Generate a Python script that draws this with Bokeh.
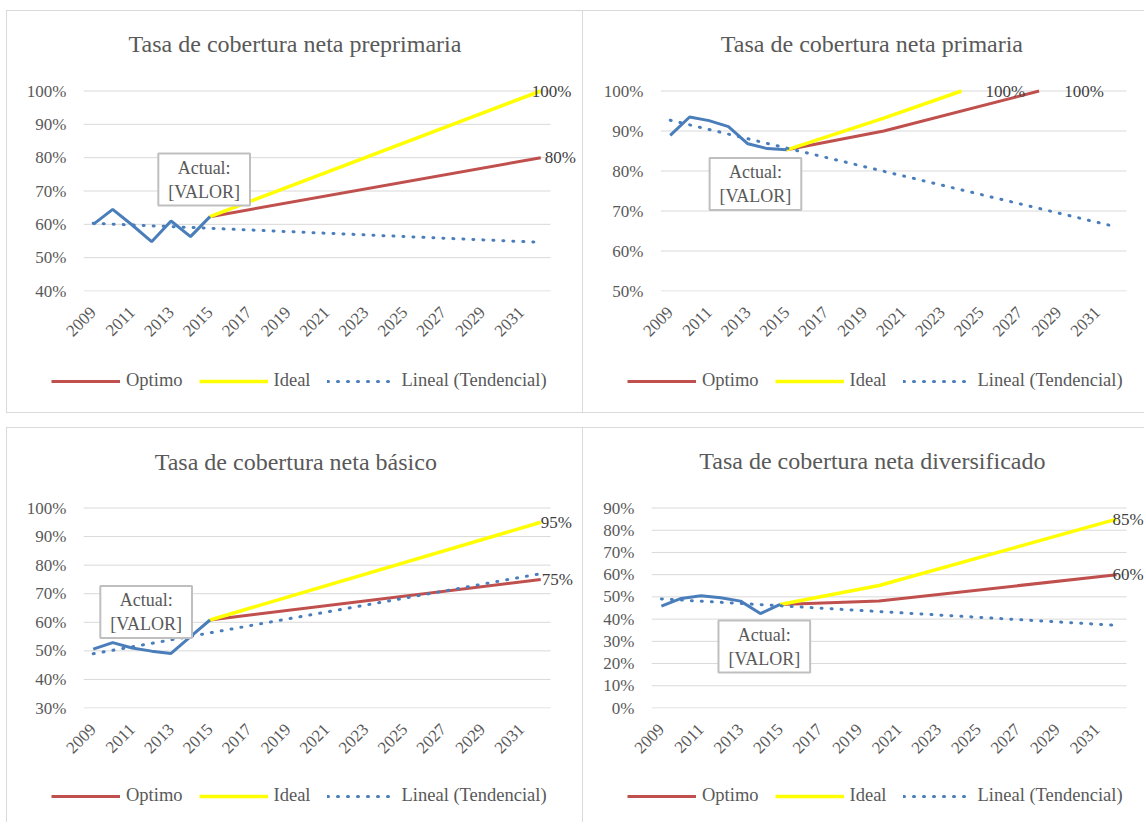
import math
from bokeh.plotting import figure
from bokeh.layouts import row, column
from bokeh.models import Range1d, FixedTicker, PrintfTickFormatter, Label, Legend, LegendItem
from bokeh.embed import file_html
from bokeh.resources import INLINE

FONT = "Liberation Serif"
TXT = "#595959"
GRID = "#d9d9d9"
RED = "#C0504D"
YEL = "#FFFF00"
BLUE = "#4A7EBB"
NAN = float("nan")

years_actual = [2009, 2010, 2011, 2012, 2013, 2014, 2015]
x_ticks = [2009, 2011, 2013, 2015, 2017, 2019, 2021, 2023, 2025, 2027, 2029, 2031]

# Tasa de cobertura neta preprimaria
pre_actual = [60.0, 64.5, 59.8, 54.8, 61.0, 56.3, 62.3]
pre_opt_years = [2015, 2032]
pre_opt = [62.3, 80.0]
pre_ide_years = [2015, 2032]
pre_ide = [62.3, 100.0]
pre_trend_years = [2009, 2032]
pre_trend = [60.3, 54.6]
pre_yticks = [40, 50, 60, 70, 80, 90, 100]

# Tasa de cobertura neta primaria
pri_actual = [88.9, 93.5, 92.6, 91.1, 86.8, 85.6, 85.3]
pri_opt_years = [2015, 2020, 2028]
pri_opt = [85.3, 90.0, 100.0]
pri_ide_years = [2015, 2020, 2024]
pri_ide = [85.3, 93.2, 100.0]
pri_trend_years = [2009, 2032]
pri_trend = [92.7, 66.0]
pri_yticks = [50, 60, 70, 80, 90, 100]

# Tasa de cobertura neta básico
bas_actual = [50.6, 52.9, 51.0, 49.9, 49.1, 55.0, 60.8]
bas_opt_years = [2015, 2032]
bas_opt = [60.8, 75.0]
bas_ide_years = [2015, 2032]
bas_ide = [60.8, 95.0]
bas_trend_years = [2009, 2032]
bas_trend = [49.0, 77.0]
bas_yticks = [30, 40, 50, 60, 70, 80, 90, 100]

# Tasa de cobertura neta diversificado
div_actual = [45.8, 49.3, 50.5, 49.6, 48.1, 42.5, 46.6]
div_opt_years = [2015, 2020, 2032]
div_opt = [46.6, 48.1, 60.0]
div_ide_years = [2015, 2020, 2032]
div_ide = [46.6, 55.1, 85.0]
div_trend_years = [2009, 2032]
div_trend = [49.1, 37.2]
div_yticks = [0, 10, 20, 30, 40, 50, 60, 70, 80, 90]

legend_labels = ["Optimo", "Ideal", "Lineal (Tendencial)"]
box_text = "Actual:\n[VALOR]"

X0, X1 = 2008.5, 2032.5   # category band of the plot area
PLOT_RIGHT = 543          # px, right edge of the gridded area inside each canvas
PLOT_TOP = 80             # px, top gridline inside each canvas
PLOT_H = 200              # px, height of the gridded area
MAIN_H = 348              # px, height of the chart canvas (legend strip below)

STYLE_OPT = dict(line_color=RED, line_width=3)
STYLE_IDE = dict(line_color=YEL, line_width=3.5)
STYLE_ACT = dict(line_color=BLUE, line_width=3)
STYLE_TR = dict(line_color=BLUE, line_width=3, line_dash="1 9", line_cap="round")


def make_legend(r1, r2, r3, loc):
    return Legend(items=[LegendItem(label=legend_labels[0], renderers=[r1]),
                         LegendItem(label=legend_labels[1], renderers=[r2]),
                         LegendItem(label=legend_labels[2], renderers=[r3])],
                  orientation="horizontal", location=loc,
                  glyph_width=69, glyph_height=20, label_standoff=6, spacing=16,
                  padding=0, margin=0, border_line_color=None,
                  background_fill_alpha=0,
                  label_text_font=FONT, label_text_font_size="18.5px",
                  label_text_color=TXT)


def chart(title, actual, ox, oy, ix, iy, tx, ty, yticks, w, mbl,
          title_xy, box_xy, end_labels):
    ymin, ymax = yticks[0], yticks[-1]
    ppu = PLOT_H / (ymax - ymin)
    ppy = (PLOT_RIGHT - mbl) / (X1 - X0)
    p = figure(width=w, height=MAIN_H,
               x_range=Range1d(X0, X0 + (w - mbl) / ppy),
               y_range=Range1d(ymin - 0.5 / ppu, ymax + (PLOT_TOP - 0.5) / ppu),
               output_backend="svg", toolbar_location=None,
               min_border_left=mbl, min_border_right=0, min_border_top=0,
               min_border_bottom=MAIN_H - PLOT_TOP - PLOT_H, outline_line_color=None,
               background_fill_color="white", border_fill_color="white")
    p.title.visible = False
    p.xgrid.visible = False
    p.ygrid.visible = False
    # horizontal gridlines limited to the category band
    p.segment(x0=[X0] * len(yticks), x1=[X1] * len(yticks), y0=yticks, y1=yticks,
              line_color=GRID, line_width=1)

    p.yaxis.ticker = FixedTicker(ticks=yticks)
    p.yaxis.formatter = PrintfTickFormatter(format="%d%%")
    p.yaxis.axis_line_color = None
    p.yaxis.major_tick_line_color = None
    p.yaxis.major_tick_out = 0
    p.yaxis.minor_tick_line_color = None
    p.yaxis.major_label_standoff = 17
    p.yaxis.major_label_text_font = FONT
    p.yaxis.major_label_text_font_size = "17px"
    p.yaxis.major_label_text_color = TXT

    p.xaxis.ticker = FixedTicker(ticks=x_ticks)
    p.xaxis.axis_line_color = None
    p.xaxis.major_tick_line_color = None
    p.xaxis.major_tick_out = 0
    p.xaxis.minor_tick_line_color = None
    p.xaxis.major_label_orientation = math.pi / 4
    p.xaxis.major_label_standoff = 18
    p.xaxis.major_label_text_font = FONT
    p.xaxis.major_label_text_font_size = "17px"
    p.xaxis.major_label_text_color = TXT

    p.line(ox, oy, **STYLE_OPT)
    p.line(ix, iy, **STYLE_IDE)
    p.line(years_actual, actual, **STYLE_ACT)
    p.line(tx, ty, **STYLE_TR)

    p.add_layout(Label(x=title_xy[0], y=title_xy[1], text=title,
                       text_align="center", text_baseline="middle",
                       text_font=FONT, text_font_size="24px", text_color=TXT))
    p.add_layout(Label(x=box_xy[0], y=box_xy[1], text=box_text,
                       text_align="center", text_baseline="middle",
                       text_font=FONT, text_font_size="18px", text_color=TXT,
                       background_fill_color="white", border_line_color="#bfbfbf",
                       border_line_width=2, padding=(10, 4)))
    for (lx, ly, txt, xo) in end_labels:
        p.add_layout(Label(x=lx, y=ly, text=txt, x_offset=xo,
                           text_align="left", text_baseline="middle",
                           text_font=FONT, text_font_size="17px",
                           text_color="#404040"))
    return p


def legend_strip(w, hs, lx, ly):
    s = figure(width=w, height=hs, x_range=Range1d(0, w), y_range=Range1d(0, hs),
               x_axis_type=None, y_axis_type=None, output_backend="svg",
               toolbar_location=None, min_border=0, min_border_left=0,
               min_border_right=0, min_border_top=0, min_border_bottom=0,
               outline_line_color=None,
               background_fill_color="white", border_fill_color="white")
    s.title.visible = False
    # legend swatches only (no data drawn in this strip)
    r1 = s.line([NAN], [NAN], **STYLE_OPT)
    r2 = s.line([NAN], [NAN], **STYLE_IDE)
    r3 = s.line([NAN], [NAN], **STYLE_TR)
    s.add_layout(make_legend(r1, r2, r3, (lx, ly)))
    return row(s)


B = "1px solid #d9d9d9"

tl = column(chart("Tasa de cobertura neta preprimaria", pre_actual,
                  pre_opt_years, pre_opt, pre_ide_years, pre_ide,
                  pre_trend_years, pre_trend, pre_yticks, 575, 76,
                  (2019.37, 114.0), (2014.7, 73.45),
                  [(2032, 100, "100%", -9), (2032, 80, "80%", 4)]),
            legend_strip(575, 401 - MAIN_H, 44, 21),
            spacing=0, styles={"border": B})

tr = column(chart("Tasa de cobertura neta primaria", pri_actual,
                  pri_opt_years, pri_opt, pri_ide_years, pri_ide,
                  pri_trend_years, pri_trend, pri_yticks, 561, 77,
                  (2019.39, 111.67), (2013.39, 76.78),
                  [(2024, 100, "100%", 24), (2028, 100, "100%", 25)]),
            legend_strip(561, 401 - MAIN_H, 44, 21),
            spacing=0, styles={"border-top": B, "border-bottom": B})

bl = column(chart("Tasa de cobertura neta básico", bas_actual,
                  bas_opt_years, bas_opt, bas_ide_years, bas_ide,
                  bas_trend_years, bas_trend, bas_yticks, 575, 76,
                  (2019.41, 116.24), (2011.72, 63.6),
                  [(2032, 95, "95%", 0), (2032, 75, "75%", 1)]),
            legend_strip(575, 394 - MAIN_H, 44, 16),
            spacing=0, styles={"border-top": B, "border-left": B, "border-right": B})

br = column(chart("Tasa de cobertura neta diversificado", div_actual,
                  div_opt_years, div_opt, div_ide_years, div_ide,
                  div_trend_years, div_trend, div_yticks, 561, 68,
                  (2019.66, 111.0), (2014.2, 27.67),
                  [(2032, 85, "85%", -4), (2032, 60, "60%", -4)]),
            legend_strip(561, 394 - MAIN_H, 44, 16),
            spacing=0, styles={"border-top": B})

layout = column(row(tl, tr, spacing=0), row(bl, br, spacing=0), spacing=14,
                margin=(10, 0, 0, 6))

open("out.html", "w").write(file_html(layout, INLINE))
